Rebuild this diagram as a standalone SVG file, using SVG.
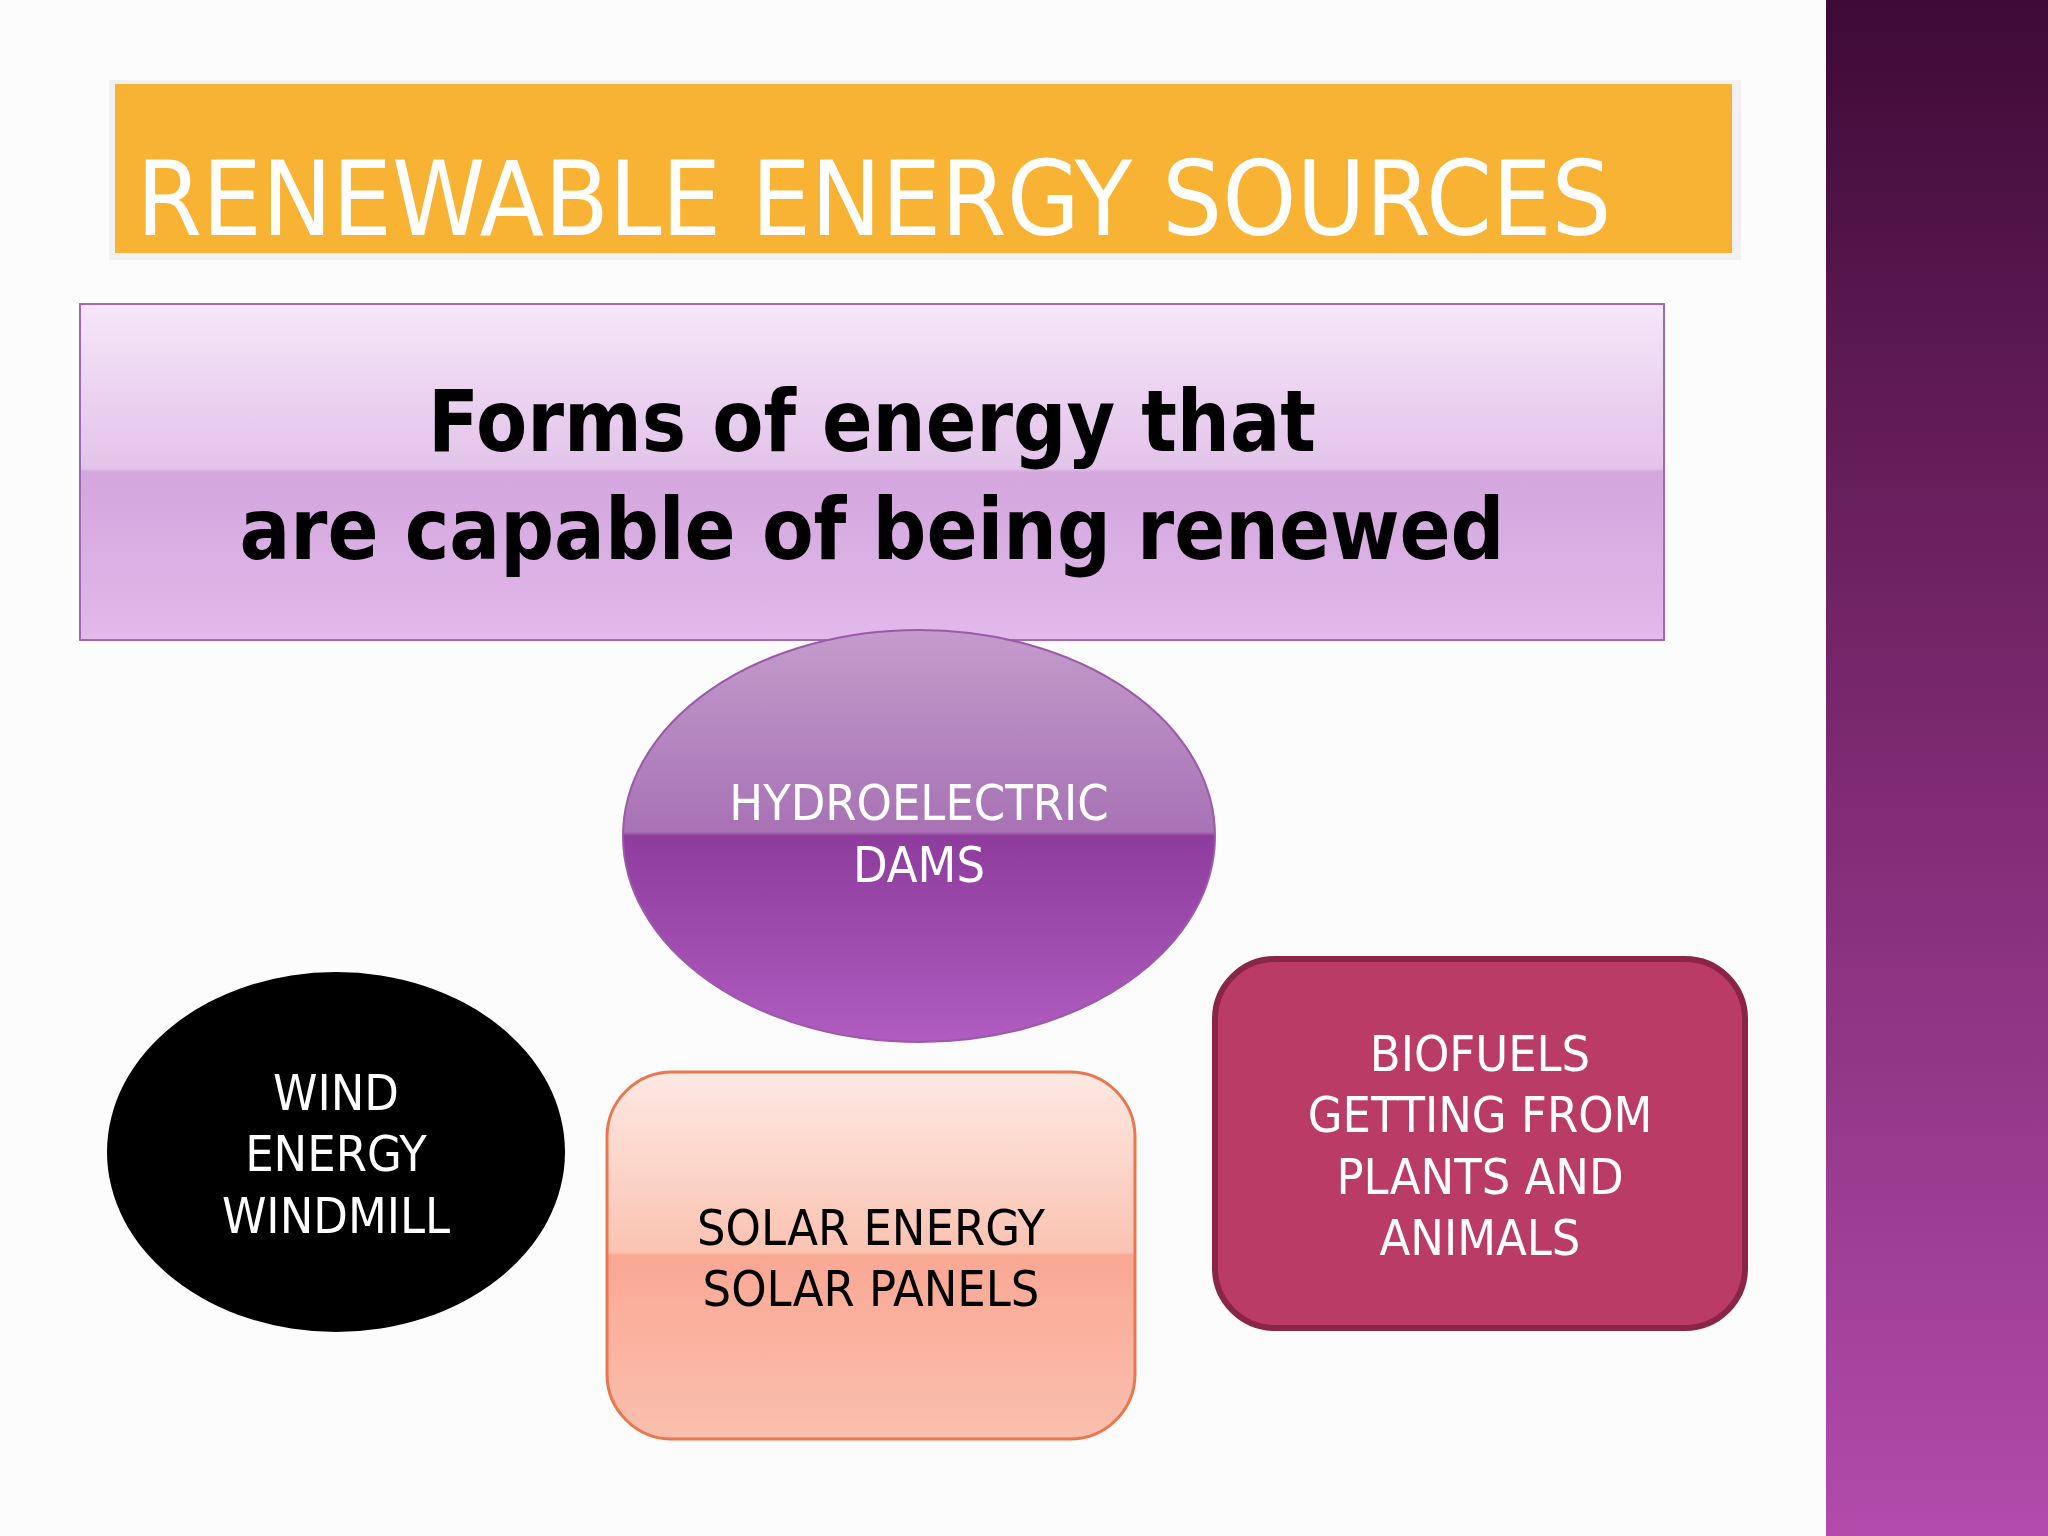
<svg xmlns="http://www.w3.org/2000/svg" width="2048" height="1536" viewBox="0 0 2048 1536">
<defs>
<linearGradient id="band" x1="0" y1="0" x2="0" y2="1"><stop offset="0" stop-color="#3e0a36"/><stop offset="0.5" stop-color="#7e2a72"/><stop offset="1" stop-color="#b24bab"/></linearGradient>
<linearGradient id="lav" x1="0" y1="0" x2="0" y2="1"><stop offset="0" stop-color="#f5e6f8"/><stop offset="0.49" stop-color="#e3c3ea"/><stop offset="0.5" stop-color="#d3a6de"/><stop offset="1" stop-color="#e2b9ea"/></linearGradient>
<linearGradient id="hyd" x1="0" y1="0" x2="0" y2="1"><stop offset="0" stop-color="#c39ccb"/><stop offset="0.49" stop-color="#a872b5"/><stop offset="0.5" stop-color="#8e3c9e"/><stop offset="1" stop-color="#b05cc0"/></linearGradient>
<linearGradient id="sol" x1="0" y1="0" x2="0" y2="1"><stop offset="0" stop-color="#fde9e3"/><stop offset="0.49" stop-color="#fbc3b2"/><stop offset="0.5" stop-color="#f9a894"/><stop offset="1" stop-color="#fbbfae"/></linearGradient>
<style>
.t{font-family:"DejaVu Sans Condensed","DejaVu Sans",sans-serif;font-size:50px;text-anchor:middle}
</style>
</defs>
<rect width="2048" height="1536" fill="#fdfcfd"/>
<rect x="1826" y="0" width="222" height="1536" fill="url(#band)"/>
<g id="title">
<rect x="109" y="80" width="1632" height="180" fill="#f3f0f2"/>
<rect x="115" y="84" width="1617" height="169" fill="#f8b334"/>
<text x="874" y="235" font-family="DejaVu Sans Condensed,DejaVu Sans,sans-serif" font-size="104" fill="#fff" text-anchor="middle" textLength="1475" lengthAdjust="spacingAndGlyphs">RENEWABLE ENERGY SOURCES</text>
</g>
<g id="definition">
<rect x="80" y="304" width="1584" height="336" fill="url(#lav)" stroke="#a268b8" stroke-width="2"/>
<text x="872" y="451" font-family="DejaVu Sans,sans-serif" font-weight="bold" font-size="86" text-anchor="middle" textLength="888" lengthAdjust="spacingAndGlyphs">Forms of energy that</text>
<text x="872" y="559" font-family="DejaVu Sans,sans-serif" font-weight="bold" font-size="86" text-anchor="middle" textLength="1265" lengthAdjust="spacingAndGlyphs">are capable of being renewed</text>
</g>
<g id="hydro">
<ellipse cx="919" cy="836" rx="296" ry="206" fill="url(#hyd)" stroke="#9b5aa8" stroke-width="2"/>
<text class="t" x="919" y="820" fill="#fff">HYDROELECTRIC</text>
<text class="t" x="919" y="882" fill="#fff">DAMS</text>
</g>
<g id="wind">
<ellipse cx="336" cy="1152" rx="229" ry="180" fill="#000"/>
<text class="t" x="336" y="1110" fill="#fff">WIND</text>
<text class="t" x="336" y="1171" fill="#fff">ENERGY</text>
<text class="t" x="336" y="1233" fill="#fff">WINDMILL</text>
</g>
<g id="solar">
<rect x="607" y="1072" width="528" height="367" rx="65" fill="url(#sol)" stroke="#e8774f" stroke-width="3"/>
<text class="t" x="871" y="1245" fill="#000">SOLAR ENERGY</text>
<text class="t" x="871" y="1306" fill="#000">SOLAR PANELS</text>
</g>
<g id="bio">
<rect x="1215" y="959" width="530" height="369" rx="60" fill="#b93b66" stroke="#8a2448" stroke-width="6"/>
<text class="t" x="1480" y="1071" fill="#fff">BIOFUELS</text>
<text class="t" x="1480" y="1132" fill="#fff">GETTING FROM</text>
<text class="t" x="1480" y="1194" fill="#fff">PLANTS AND</text>
<text class="t" x="1480" y="1255" fill="#fff">ANIMALS</text>
</g>
<g id="connectors"/>
</svg>
